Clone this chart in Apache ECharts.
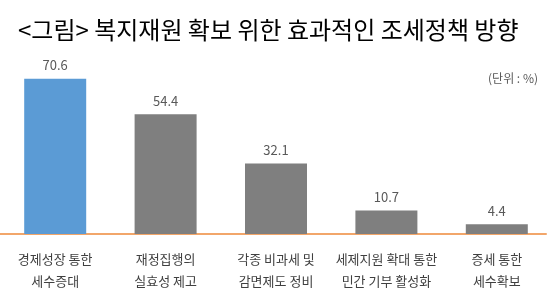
<!DOCTYPE html>
<html>
<head>
<meta charset="utf-8">
<script src="https://cdn.jsdelivr.net/npm/echarts@6/dist/echarts.min.js"></script>
<style>
html,body{margin:0;padding:0;background:#fff;}
#c{width:552px;height:295px;}
</style>
</head>
<body>
<div id="c"></div>
<script>
const categories = ['경제성장 통한\n세수증대', '재정집행의\n실효성 제고', '각종 비과세 및\n감면제도 정비', '세제지원 확대 통한\n민간 기부 활성화', '증세 통한\n세수확보'];
const values = [70.6, 54.4, 32.1, 10.7, 4.4];
const barColors = ['#5B9BD5', '#7F7F7F', '#7F7F7F', '#7F7F7F', '#7F7F7F'];
const titleText = '<그림> 복지재원 확보 위한 효과적인 조세정책 방향';
const unitText = '(단위 : %)';

const font = '"Noto Sans CJK KR", "Noto Sans", sans-serif';
const chart = echarts.init(document.getElementById('c'));
chart.setOption({
  animation: false,
  textStyle: { fontFamily: font },
  title: [
    { text: titleText, left: 13, top: 13, textStyle: { fontFamily: font, fontSize: 24, fontWeight: 'normal', color: '#000' } },
    { text: unitText, right: 9, top: 67, textStyle: { fontFamily: font, fontSize: 12, fontWeight: 'normal', color: '#595959' } }
  ],
  grid: [
    { left: -3.5, width: 558, top: 58, bottom: 61 },
    { left: 0, right: 6, top: 58, bottom: 61 }
  ],
  xAxis: [
    {
      type: 'category', data: categories, gridIndex: 0,
      axisLine: { show: false }, axisTick: { show: false },
      axisLabel: { interval: 0, margin: 14, fontSize: 13, lineHeight: 22, color: '#404040', fontFamily: font }
    },
    {
      type: 'category', data: categories, gridIndex: 1,
      axisLine: { show: true, lineStyle: { color: '#F2A66A', width: 2 } },
      axisTick: { show: false }, axisLabel: { show: false }
    }
  ],
  yAxis: [
    { type: 'value', min: 0, max: 80, show: false, gridIndex: 0 },
    { type: 'value', min: 0, max: 80, show: false, gridIndex: 1 }
  ],
  series: [{
    type: 'bar',
    data: values.map((v, i) => ({ value: v, itemStyle: { color: barColors[i] } })),
    barWidth: 62,
    label: { show: true, position: 'top', distance: 7, fontSize: 13, color: '#595959', fontFamily: font }
  }]
});
</script>
</body>
</html>
